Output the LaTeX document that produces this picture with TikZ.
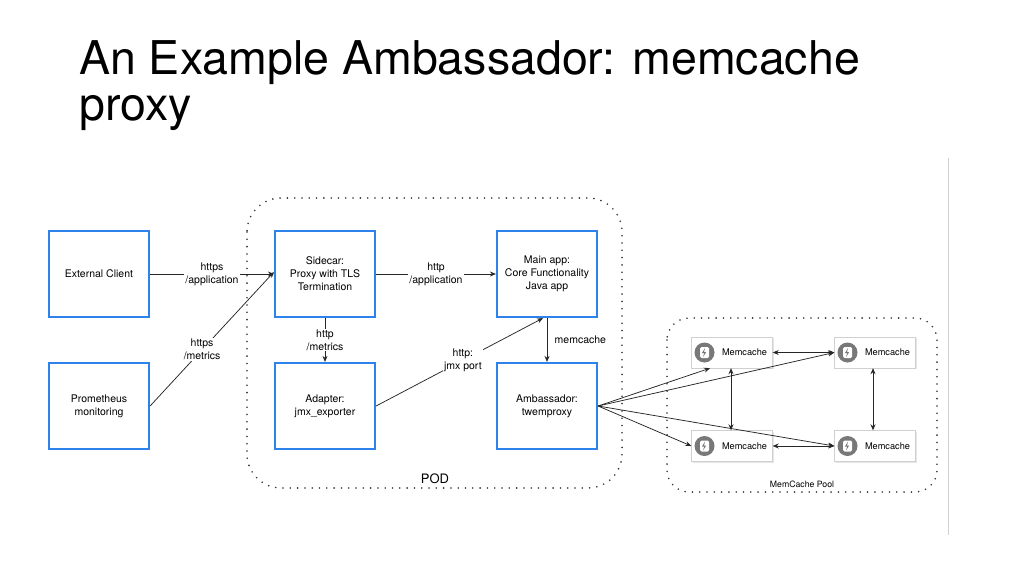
\documentclass[tikz,border=0pt]{standalone}
\usepackage{fontspec}
\setmainfont{TeX Gyre Heros}
\usetikzlibrary{arrows.meta,shadows}
\definecolor{boxblue}{RGB}{45,130,235}
\definecolor{cacheline}{RGB}{208,208,208}
\definecolor{icongray}{RGB}{120,120,120}

\begin{document}
\begin{tikzpicture}[x=1pt,y=-1pt,
	bluebox/.style={draw=boxblue,line width=2.2pt,minimum width=100pt,minimum height=86pt,align=center,font=\fontsize{10.5}{13}\selectfont},
	cachebox/.style={draw=cacheline,fill=white,drop shadow={opacity=0.2,shadow xshift=1.2pt,shadow yshift=-1.2pt},
		minimum width=81pt,minimum height=31pt,text width=70pt,align=right,inner xsep=5.5pt,font=\fontsize{9.2}{10}\selectfont,
		path picture={
			\fill[icongray] ([xshift=13pt]path picture bounding box.west) circle (10pt);
			\fill[white,rounded corners=1.5pt] ([xshift=8.5pt,yshift=-5.5pt]path picture bounding box.west) rectangle ++(9pt,11pt);
			\fill[icongray] ([xshift=13.5pt,yshift=4.5pt]path picture bounding box.west) -- ++(-3pt,-5pt) -- ++(2.2pt,0pt) -- ++(-1.2pt,-4pt) -- ++(3.2pt,5pt) -- ++(-2.2pt,0pt) -- cycle;
		}},
	pool/.style={draw=black!80,line width=1.8pt,dash pattern=on 0pt off 7.3pt,line cap=round},
	arr/.style={-{Stealth[length=6pt,width=5pt]},draw=black!85,line width=0.75pt},
	dbl/.style={{Stealth[length=6pt,width=5pt]}-{Stealth[length=6pt,width=5pt]},draw=black!85,line width=0.75pt},
	lbl/.style={fill=white,align=center,inner sep=1pt,font=\fontsize{10.5}{13}\selectfont}]
	\useasboundingbox (0,0) rectangle (1024,576);
	\node[anchor=north west,inner sep=0pt,align=left,font=\fontsize{46.5}{46}\selectfont] (title) at (79,40) {An Example Ambassador: memcache\\proxy};
	\draw[pool,rounded corners=34pt] (247,198) rectangle (622,488);
	\draw[pool,rounded corners=22pt] (667,318) rectangle (937,492);
	\node[font=\fontsize{13}{15}\selectfont] (podlabel) at (435,479) {POD};
	\node[font=\fontsize{8.7}{10}\selectfont] (poollabel) at (802,484) {MemCache Pool};
	\draw[cacheline,line width=1pt] (948,158) -- (948,535);
	\node[bluebox] (client) at (99,274) {External Client};
	\node[bluebox] (prom) at (99,406) {Prometheus\\monitoring};
	\node[bluebox] (sidecar) at (325,274) {Sidecar:\\Proxy with TLS\\Termination};
	\node[bluebox] (adapter) at (325,406) {Adapter:\\jmx\_exporter};
	\node[bluebox] (mainapp) at (547,274) {Main app:\\Core Functionality\\Java app};
	\node[bluebox] (ambassador) at (547,406) {Ambassador:\\twemproxy};
	\foreach \name/\x/\y in {mctl/732/352.5,mctr/875/352.5,mcbl/732/446,mcbr/875/446}
		\node[cachebox] (\name) at (\x,\y) {Memcache};
	\draw[arr] (client) -- node[lbl] {https\\/application} (sidecar);
	\draw[arr] (prom.east) -- node[lbl,pos=0.42] {https\\/metrics} ([yshift=2pt]sidecar.west);
	\draw[arr] (sidecar) -- node[lbl] {http\\/application} (mainapp);
	\draw[arr] (sidecar) -- node[lbl] {http\\/metrics} (adapter);
	\draw[arr] (adapter.east) -- node[lbl,pos=0.52] {http:\\jmx port} ([xshift=-4pt]mainapp.south);
	\draw[arr] (mainapp.south) -- node[right=4pt,font=\fontsize{10.5}{13}\selectfont] {memcache} (ambassador.north);
	\draw[arr] (ambassador.east) -- ([xshift=-22pt]mctl.south);
	\draw[arr] (ambassador.east) -- (mctr.west);
	\draw[arr] (ambassador.east) -- (mcbl.west);
	\draw[arr] (ambassador.east) -- (mcbr.west);
	\draw[dbl] (mctl) -- (mctr);
	\draw[dbl] ([xshift=-1pt]mctl.south) -- ([xshift=-1pt]mcbl.north);
	\draw[dbl] ([xshift=-2pt]mctr.south) -- ([xshift=-2pt]mcbr.north);
	\draw[dbl] (mcbl) -- (mcbr);
\end{tikzpicture}
\end{document}
